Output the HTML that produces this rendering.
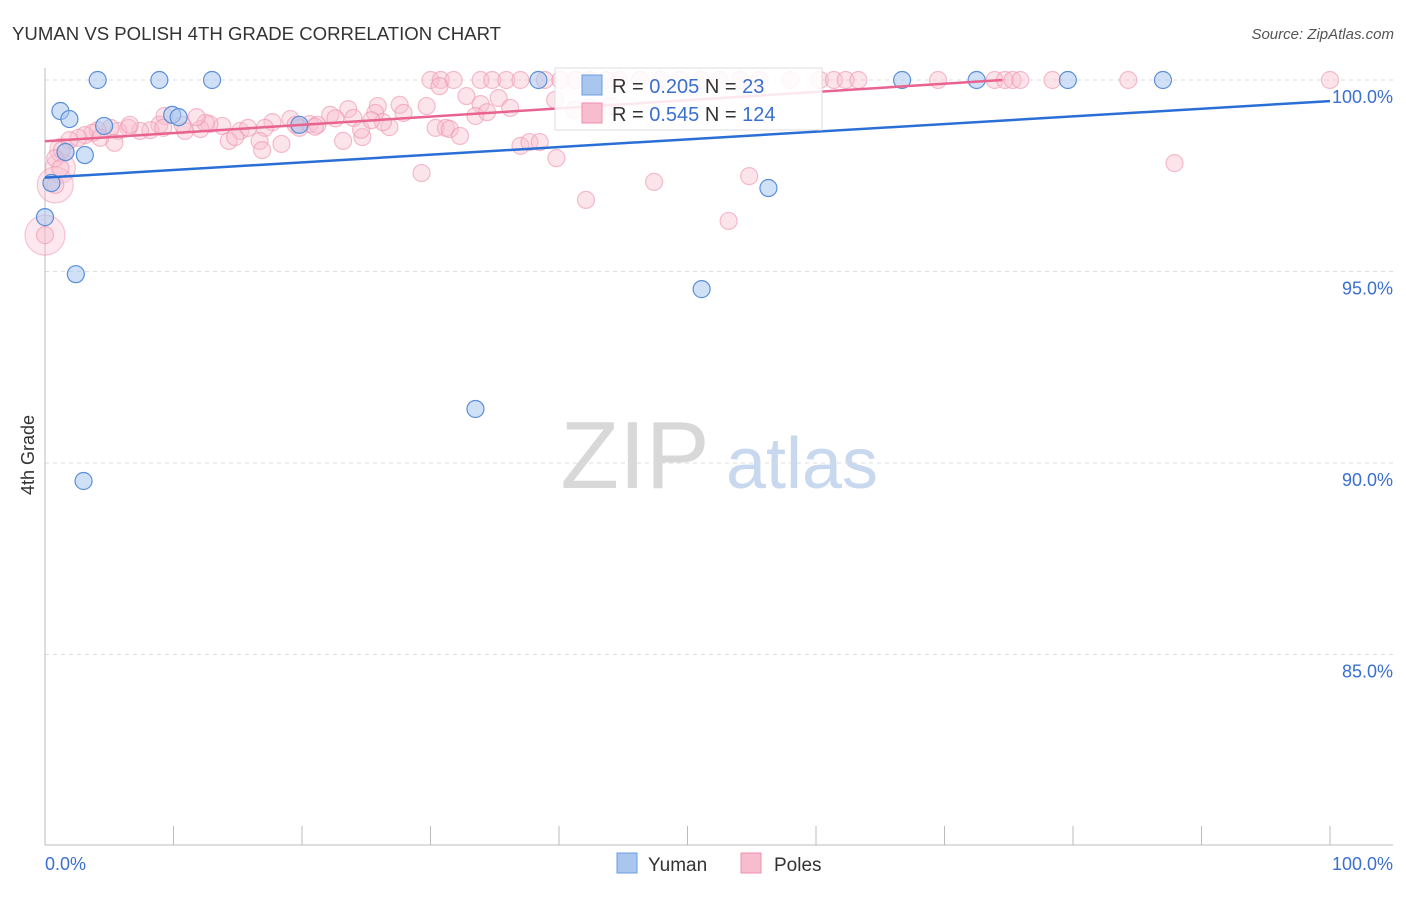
<!DOCTYPE html>
<html><head><meta charset="utf-8"><style>
body{margin:0;background:#fff;font-family:"Liberation Sans",sans-serif;}
svg text{font-family:"Liberation Sans",sans-serif;}
</style></head><body>
<svg width="1406" height="892" viewBox="0 0 1406 892" xmlns="http://www.w3.org/2000/svg">
<text x="12" y="40" font-size="18.6" fill="#333">YUMAN VS POLISH 4TH GRADE CORRELATION CHART</text>
<text x="1394" y="39" font-size="15" fill="#555" text-anchor="end" font-style="italic">Source: ZipAtlas.com</text>
<g>
<text x="635" y="488" font-size="96" fill="#d8d8d8" text-anchor="middle" font-family="Liberation Serif">ZIP</text>
<text x="802" y="488" font-size="72" fill="#c8d8ee" text-anchor="middle">atlas</text>
</g>
<g id="grid"></g>
<g id="axes"></g>
<g id="pts"></g>
<g id="lines"></g>
<g>
<rect x="555" y="68" width="267" height="62" fill="#fff" fill-opacity="0.85" stroke="#ddd"/>
<rect x="582" y="75" width="20" height="20" fill="#a9c6ef" stroke="#6a9ce0"/>
<rect x="582" y="103" width="20" height="20" fill="#f7bccd" stroke="#ee92ad"/>
<text x="612" y="93" font-size="20" fill="#333">R = <tspan fill="#3a6fd0">0.205</tspan>   N =  <tspan fill="#3a6fd0">23</tspan></text>
<text x="612" y="121" font-size="20" fill="#333">R = <tspan fill="#3a6fd0">0.545</tspan>   N = <tspan fill="#3a6fd0">124</tspan></text>
</g>
<g>
<rect x="617" y="853" width="20" height="20" fill="#a9c6ef" stroke="#6a9ce0"/>
<text x="648" y="871" font-size="19" fill="#333">Yuman</text>
<rect x="741" y="853" width="20" height="20" fill="#f7bccd" stroke="#ee92ad"/>
<text x="774" y="871" font-size="19" fill="#333">Poles</text>
</g>
<text transform="translate(34,455) rotate(-90)" font-size="18" fill="#333" text-anchor="middle">4th Grade</text>
</svg>
<script>
const yTicks=[100,95,90,85];
const yTickLabels=["100.0%","95.0%","90.0%","85.0%"];
const xTicks=[0,10,20,30,40,50,60,70,80,90,100];
const blueX=[4.1,8.9,13.0,38.4,66.7,72.5,79.6,87.0,1.2,1.9,4.6,9.9,10.4,19.8,1.6,3.1,0.5,0.0,2.4,51.1,33.5,3.0,56.3];
const blueY=[100,100,100,100,100,100,100,100,99.19,98.98,98.80,99.09,99.03,98.83,98.12,98.04,97.31,96.42,94.93,94.54,91.41,89.53,97.18];
const pinkX=[30.0,30.8,31.8,33.9,34.8,35.9,37.0,38.9,40.1,41.3,42.4,43.7,44.7,46.3,47.9,49.4,51.0,52.5,54.1,55.6,58.0,60.3,61.4,62.3,63.3,69.5,73.9,74.7,75.3,75.9,78.4,84.3,100,
30.7,32.8,35.3,33.9,36.2,33.5,34.4,27.6,29.7,25.9,23.6,27.9,22.2,24.0,25.7,26.8,20.6,19.1,17.7,17.1,15.2,15.8,13.8,12.8,12.1,10.9,10.7,9.3,8.9,8.2,7.4,6.5,5.7,5.1,4.1,3.7,3.1,2.6,1.9,5.4,1.3,0.8,1.2,0.8,0,4.3,6.6,9.2,12.5,14.3,14.8,16.7,18.4,19.8,21.2,23.2,24.7,26.3,29.3,30.4,31.2,31.5,32.3,37.0,37.7,38.5,39.8,42.1,47.4,53.2,54.8,87.9,39.7,16.9,11.8,19.5,21.0,22.6,24.6,25.4,41.2,42.4,44.0];
const pinkY=[100,100,100,100,100,100,100,100,100,100,100,100,100,100,100,100,100,100,100,100,100,100,100,100,100,100,100,100,100,100,100,100,100,
99.84,99.58,99.53,99.37,99.27,99.06,99.16,99.35,99.32,99.32,99.24,99.14,99.09,99.01,99.14,98.77,98.85,98.98,98.90,98.75,98.67,98.75,98.80,98.85,98.72,98.67,98.83,99.06,98.83,98.69,98.67,98.75,98.67,98.75,98.69,98.62,98.56,98.49,98.43,98.36,98.17,97.96,97.70,97.26,95.95,98.49,98.83,98.75,98.88,98.41,98.51,98.41,98.33,98.75,98.83,98.41,98.51,98.90,97.57,98.75,98.75,98.72,98.54,98.28,98.38,98.38,97.96,96.87,97.34,96.32,97.49,97.83,99.48,98.17,99.03,98.83,98.78,99.00,98.70,98.95,99.22,99.27,99.32];
const pinkBig=[[1.2,97.70,15],[0.8,97.26,18],[0,95.95,20],[1.3,98.17,12]];
const blueTrend=[[0,97.45],[100,99.45]];
const pinkTrend=[[0,98.4],[74.5,100]];
const X=v=>45+v*12.85, Y=v=>80+(100-v)*38.3;
const NS="http://www.w3.org/2000/svg";
function mk(p,t,a){const e=document.createElementNS(NS,t);for(const k in a)e.setAttribute(k,a[k]);p.appendChild(e);return e;}
const grid=document.getElementById('grid'),axes=document.getElementById('axes'),pts=document.getElementById('pts'),lines=document.getElementById('lines');
yTicks.forEach((t,i)=>{
 const l=mk(grid,'line',{x1:45,x2:1393,y1:Y(t),y2:Y(t),stroke:'#ddd','stroke-dasharray':'4,4'});
 
 
 const tx=mk(grid,'text',{x:1393,y:Y(t)+23,'font-size':18,fill:'#3a6fd0','text-anchor':'end'});
 tx.textContent=yTickLabels[i];
 
 
});
let a=mk(axes,'line',{x1:45,x2:45,y1:68,y2:845,stroke:'#bbb'});


a=mk(axes,'line',{x1:45,x2:1393,y1:845,y2:845,stroke:'#bbb'});


xTicks.forEach(t=>{const l=mk(axes,'line',{x1:X(t),x2:X(t),y1:826,y2:845,stroke:'#bbb'});
 
 });
let t0=mk(axes,'text',{x:45,y:870,'font-size':18,fill:'#3a6fd0'});t0.textContent='0.0%';


let t1=mk(axes,'text',{x:1393,y:870,'font-size':18,fill:'#3a6fd0','text-anchor':'end'});t1.textContent='100.0%';


pinkBig.forEach(p=>{const c=mk(pts,'circle',{cx:X(p[0]),cy:Y(p[1]),r:p[2],fill:'#f7bccd','fill-opacity':0.35,stroke:'#ee92ad','stroke-opacity':0.5,'stroke-width':1.2});
 
 });
pinkX.forEach((x,i)=>{const c=mk(pts,'circle',{cx:X(x),cy:Y(pinkY[i]),r:8.5,fill:'#f7bccd','fill-opacity':0.4,stroke:'#ee92ad','stroke-opacity':0.6,'stroke-width':1.2});
 
 });
blueX.forEach((x,i)=>{const c=mk(pts,'circle',{cx:X(x),cy:Y(blueY[i]),r:8.5,fill:'#a9c6ef','fill-opacity':0.55,stroke:'#5b8fd8','stroke-width':1.2});
 
 });
let bl=mk(lines,'line',{x1:X(blueTrend[0][0]),y1:Y(blueTrend[0][1]),x2:X(blueTrend[1][0]),y2:Y(blueTrend[1][1]),stroke:'#2a6fd6','stroke-width':2.5});


let pl=mk(lines,'line',{x1:X(pinkTrend[0][0]),y1:Y(pinkTrend[0][1]),x2:X(pinkTrend[1][0]),y2:Y(pinkTrend[1][1]),stroke:'#e8638f','stroke-width':2.5});


</script>
</body></html>
